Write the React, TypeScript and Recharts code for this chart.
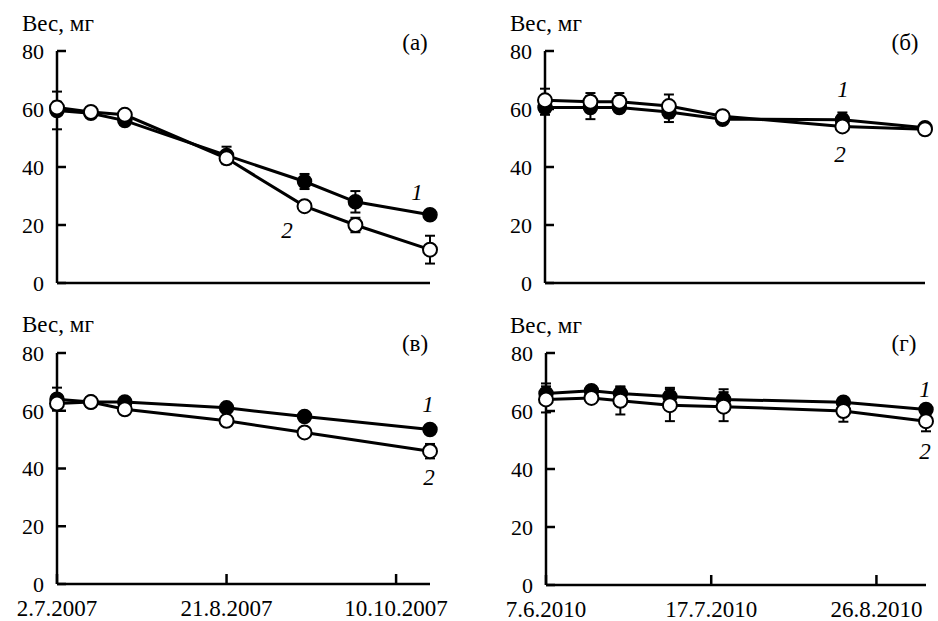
import { ErrorBar, Line, LineChart, XAxis, YAxis } from "recharts";

// days since first sampling date
const daysA = [0, 10, 20, 50, 73, 88, 110];
const aFilled = [59.5, 58.5, 56, 44, 35, 28, 23.5];
const aFilledErr = [6.5, 1, 1.5, 3, 2.6, 3.7, 1];
const aOpen = [60.5, 59, 58, 43, 26.5, 20, 11.5];
const aOpenErr = [2, 1, 1, 1.5, 1, 2.5, 4.8];

const daysB = [0, 11, 18, 30, 43, 72, 92];
const bFilled = [60.5, 60.5, 60.5, 59, 56.5, 56.3, 53.5];
const bFilledErr = [2.5, 4, 1.5, 3.5, 1, 2.5, 1];
const bOpen = [63, 62.5, 62.5, 61, 57.5, 54, 53];
const bOpenErr = [4, 3, 3, 4, 1, 1, 1];

const daysV = [0, 10, 20, 50, 73, 110];
const vFilled = [64, 63, 63, 61, 58, 53.5];
const vFilledErr = [4, 1, 1, 1, 1.5, 1];
const vOpen = [62.5, 63, 60.5, 56.5, 52.5, 46];
const vOpenErr = [2, 1, 1, 1, 1, 2.5];

const daysG = [0, 11, 18, 30, 43, 72, 92];
const gFilled = [66, 67, 66, 65, 64, 63, 60.5];
const gFilledErr = [3.5, 1, 2.5, 3, 3.5, 1, 1];
const gOpen = [64, 64.5, 63.5, 62, 61.5, 60, 56.5];
const gOpenErr = [4.5, 1, 4.7, 5.5, 5, 3.7, 3.5];

const ticks2007 = [0, 50, 100];
const labels2007 = ["2.7.2007", "21.8.2007", "10.10.2007"];
const ticks2010 = [0, 40, 80];
const labels2010 = ["7.6.2010", "17.7.2010", "26.8.2010"];
const yTicks = [0, 20, 40, 60, 80];

const FONT = "serif";

function rows(days: number[], f: number[], fe: number[], o: number[], oe: number[]) {
  return days.map((d, i) => ({ d, f: f[i], fe: fe[i], o: o[i], oe: oe[i] }));
}

interface PanelProps {
  left: number;
  top: number;
  width: number;
  height: number;
  yWidth: number;
  xHeight: number;
  marginTop: number;
  marginRight: number;
  data: ReturnType<typeof rows>;
  xMax: number;
  ticks: number[];
  labels?: string[];
}

function Panel(p: PanelProps) {
  const yTick = (t: any) => (
    <text x={t.x} y={t.y} dy="0.355em" textAnchor="end" fontSize={22} fontFamily={FONT} fill="#000">
      {t.payload.value}
    </text>
  );
  const xTick = (t: any) => (
    <text x={t.x} y={t.y} dy="0.71em" textAnchor="middle" fontSize={23} fontFamily={FONT} fill="#000">
      {p.labels ? p.labels[p.ticks.indexOf(t.payload.value)] : ""}
    </text>
  );
  return (
    <div style={{ position: "absolute", left: p.left, top: p.top }}>
      <LineChart
        width={p.width}
        height={p.height}
        data={p.data}
        margin={{ top: p.marginTop, right: p.marginRight, left: 0, bottom: 0 }}
      >
        <XAxis
          dataKey="d"
          type="number"
          domain={[0, p.xMax]}
          ticks={p.ticks}
          interval={0}
          height={p.xHeight}
          axisLine={{ stroke: "#000", strokeWidth: 2.5 }}
          tickLine={{ stroke: "#000", strokeWidth: 2.5 }}
          tickSize={-10}
          tickMargin={26}
          tick={p.labels ? xTick : false}
        />
        <YAxis
          type="number"
          domain={[0, 80]}
          ticks={yTicks}
          interval={0}
          width={p.yWidth}
          axisLine={{ stroke: "#000", strokeWidth: 2.5 }}
          tickLine={{ stroke: "#000", strokeWidth: 2.5 }}
          tickSize={-9}
          tickMargin={22}
          tick={yTick}
        />
        <Line
          dataKey="f"
          stroke="#000"
          strokeWidth={3}
          dot={{ r: 7, fill: "#000", stroke: "#000", strokeWidth: 1.5 }}
          isAnimationActive={false}
        >
          <ErrorBar dataKey="fe" direction="y" width={5} stroke="#000" strokeWidth={2} />
        </Line>
        <Line
          dataKey="o"
          stroke="#000"
          strokeWidth={3}
          dot={{ r: 7, fill: "#fff", stroke: "#000", strokeWidth: 2 }}
          isAnimationActive={false}
        >
          <ErrorBar dataKey="oe" direction="y" width={5} stroke="#000" strokeWidth={2} />
        </Line>
      </LineChart>
    </div>
  );
}

const notes = [
  { x: 22, y: 31, t: "Вес, мг", a: "start", i: false },
  { x: 510, y: 31, t: "Вес, мг", a: "start", i: false },
  { x: 22, y: 332, t: "Вес, мг", a: "start", i: false },
  { x: 510, y: 333, t: "Вес, мг", a: "start", i: false },
  { x: 415, y: 50, t: "(а)", a: "middle", i: false },
  { x: 905, y: 50, t: "(б)", a: "middle", i: false },
  { x: 415, y: 351, t: "(в)", a: "middle", i: false },
  { x: 904, y: 351, t: "(г)", a: "middle", i: false },
  { x: 417, y: 200, t: "1", a: "middle", i: true },
  { x: 287, y: 238, t: "2", a: "middle", i: true },
  { x: 843, y: 97, t: "1", a: "middle", i: true },
  { x: 840, y: 162, t: "2", a: "middle", i: true },
  { x: 428, y: 412, t: "1", a: "middle", i: true },
  { x: 429, y: 485, t: "2", a: "middle", i: true },
  { x: 925, y: 397, t: "1", a: "middle", i: true },
  { x: 925, y: 459, t: "2", a: "middle", i: true },
];

export default function App() {
  return (
    <div style={{ position: "absolute", left: 0, top: 0, width: 938, height: 621, background: "#fff" }}>
      <Panel left={0} top={0} width={469} height={300} yWidth={57} xHeight={17} marginTop={51} marginRight={39}
        data={rows(daysA, aFilled, aFilledErr, aOpen, aOpenErr)} xMax={110} ticks={ticks2007} />
      <Panel left={469} top={0} width={469} height={300} yWidth={76} xHeight={17} marginTop={51} marginRight={13}
        data={rows(daysB, bFilled, bFilledErr, bOpen, bOpenErr)} xMax={92} ticks={ticks2010} />
      <Panel left={0} top={300} width={469} height={321} yWidth={57} xHeight={37} marginTop={53} marginRight={39}
        data={rows(daysV, vFilled, vFilledErr, vOpen, vOpenErr)} xMax={110} ticks={ticks2007} labels={labels2007} />
      <Panel left={469} top={300} width={469} height={321} yWidth={77} xHeight={36} marginTop={53} marginRight={12}
        data={rows(daysG, gFilled, gFilledErr, gOpen, gOpenErr)} xMax={92} ticks={ticks2010} labels={labels2010} />
      <svg width={938} height={621} style={{ position: "absolute", left: 0, top: 0, pointerEvents: "none" }}>
        {notes.map((n, k) => (
          <text key={k} x={n.x} y={n.y} textAnchor={n.a as any} fontSize={23} fontFamily={FONT}
            fontStyle={n.i ? "italic" : "normal"} fill="#000">
            {n.t}
          </text>
        ))}
      </svg>
    </div>
  );
}
